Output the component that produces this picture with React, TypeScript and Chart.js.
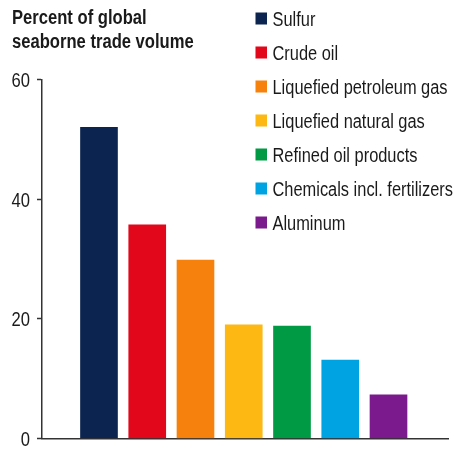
import React, { useEffect, useRef } from "react";
import { Chart, registerables } from "chart.js";

Chart.register(...registerables);

const categories = [
  "Sulfur",
  "Crude oil",
  "Liquefied petroleum gas",
  "Liquefied natural gas",
  "Refined oil products",
  "Chemicals incl. fertilizers",
  "Aluminum",
];
const shares = [52.0, 35.7, 29.8, 19.0, 18.8, 13.1, 7.3];
const colors = ["#0b2450", "#e2071b", "#f6820d", "#fdb813", "#009a44", "#00a3e2", "#7a1a8c"];
const yTicks = [0, 20, 40, 60];
const titleLines = ["Percent of global", "seaborne trade volume"];

const FONT = "'Liberation Sans', Arial, sans-serif";
const TEXT = "#1a1a1a";
const AXIS = "#333333";

function narrowText(
  ctx: CanvasRenderingContext2D,
  text: string,
  x: number,
  y: number,
  sx: number,
  align: CanvasTextAlign
) {
  ctx.save();
  ctx.translate(x, y);
  ctx.scale(sx, 1);
  ctx.textAlign = align;
  ctx.textBaseline = "alphabetic";
  ctx.fillText(text, 0, 0);
  ctx.restore();
}

const overlay = {
  id: "overlay",
  afterDraw(chart: any) {
    const ctx = chart.ctx as CanvasRenderingContext2D;
    ctx.save();
    ctx.fillStyle = TEXT;
    // title
    ctx.font = `bold 20px ${FONT}`;
    titleLines.forEach((t, i) => narrowText(ctx, t, 12, 23.5 + i * 24, 0.83, "left"));
    // legend
    ctx.font = `20px ${FONT}`;
    categories.forEach((c, i) => {
      const cy = 18.5 + i * 34;
      ctx.fillStyle = colors[i];
      ctx.fillRect(255.5, cy - 6, 11.5, 12);
      ctx.fillStyle = TEXT;
      narrowText(ctx, c, 272.5, cy + 7, 0.82, "left");
    });
    // y tick labels
    const ys = chart.scales.y;
    ctx.font = `20.5px ${FONT}`;
    ctx.fillStyle = TEXT;
    yTicks.forEach((v) => {
      const py = ys.getPixelForValue(v);
      narrowText(ctx, String(v), 30, py + 7.4, 0.81, "right");
    });
    ctx.restore();
  },
};

export default function App() {
  const ref = useRef<HTMLCanvasElement | null>(null);
  useEffect(() => {
    if (!ref.current) return;
    const chart = new Chart(ref.current, {
      type: "bar",
      data: {
        datasets: [
          {
            label: "Share",
            data: shares.map((v, i) => ({ x: i, y: v })),
            backgroundColor: colors,
            borderWidth: 0,
            barThickness: 37,
          } as any,
        ],
      },
      options: {
        animation: false,
        responsive: false,
        devicePixelRatio: 1,
        layout: { padding: { top: 79.5, right: 10, bottom: 0, left: 0 } },
        plugins: { legend: { display: false }, tooltip: { enabled: false }, title: { display: false } },
        scales: {
          x: {
            type: "linear",
            min: -1.181,
            max: 7.233,
            offset: false,
            ticks: { display: false },
            grid: { display: false, drawTicks: false },
            border: { display: true, color: AXIS, width: 1.5 },
            afterFit: (s: any) => {
              s.height = 10.5;
            },
          },
          y: {
            min: 0,
            max: 60,
            afterBuildTicks: (s: any) => {
              s.ticks = yTicks.map((v) => ({ value: v }));
            },
            ticks: { display: false },
            grid: { drawOnChartArea: false, drawTicks: true, tickLength: 5, tickColor: AXIS, tickWidth: 1.5 },
            border: { display: true, color: AXIS, width: 1.5 },
            afterFit: (s: any) => {
              s.width = 42;
            },
          },
        },
      } as any,
      plugins: [overlay],
    });
    return () => chart.destroy();
  }, []);
  return (
    <div style={{ position: "fixed", left: 0, top: 0, width: 458, height: 449, background: "#fff" }}>
      <canvas ref={ref} width={458} height={449} style={{ display: "block" }} />
    </div>
  );
}
